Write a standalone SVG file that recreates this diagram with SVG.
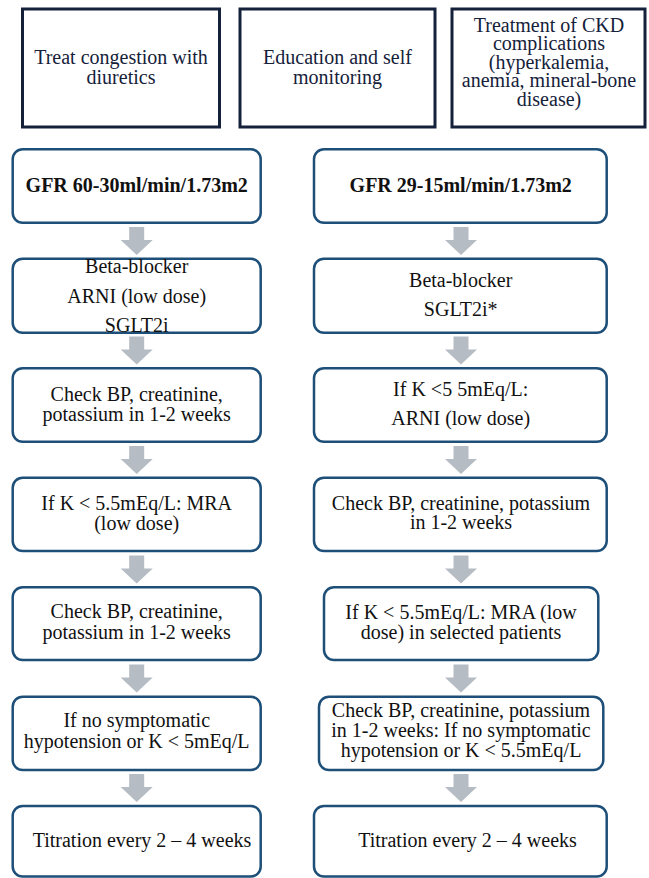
<svg xmlns="http://www.w3.org/2000/svg" width="649" height="878" viewBox="0 0 649 878">
<style>
.top{fill:#ffffff;stroke:#15213a;stroke-width:3}
.box{fill:#ffffff;stroke:#1d4f78;stroke-width:2.5}
.t{font-family:"Liberation Serif","Times New Roman",serif;font-size:20px;fill:#111111;text-anchor:middle}
.tt{font-family:"Liberation Serif","Times New Roman",serif;font-size:20px;fill:#15213a;text-anchor:middle}
.b{font-weight:bold}
.arr{fill:#b5bcc3}
</style>
<defs>
<path id="dn" class="arr" d="M-7.5,0 H7.5 V13 H16 L0,28 L-16,13 H-7.5 Z"/>
</defs>
<rect width="649" height="878" fill="#ffffff"/>

<g id="top1">
<rect class="top" x="22.5" y="9" width="197" height="118"/>
<text class="tt" x="121" y="64">Treat congestion with</text>
<text class="tt" x="121" y="83.5">diuretics</text>
</g>
<g id="top2">
<rect class="top" x="240" y="9" width="195" height="118"/>
<text class="tt" x="337.5" y="64">Education and self</text>
<text class="tt" x="337.5" y="83.5">monitoring</text>
</g>
<g id="top3">
<rect class="top" x="452" y="9" width="193" height="118"/>
<text class="tt" x="549" y="31.5">Treatment of CKD</text>
<text class="tt" x="549" y="50">complications</text>
<text class="tt" x="549" y="68.5">(hyperkalemia,</text>
<text class="tt" x="549" y="87.3">anemia, mineral-bone</text>
<text class="tt" x="549" y="106">disease)</text>
</g>

<g id="connectors">
<use href="#dn" x="136.7" y="227"/>
<use href="#dn" x="136.7" y="336.5"/>
<use href="#dn" x="136.7" y="446"/>
<use href="#dn" x="136.7" y="555.5"/>
<use href="#dn" x="136.7" y="664.5"/>
<use href="#dn" x="136.7" y="774"/>
<use href="#dn" x="461" y="227"/>
<use href="#dn" x="461" y="336.5"/>
<use href="#dn" x="461" y="446"/>
<use href="#dn" x="461" y="555.5"/>
<use href="#dn" x="461" y="664.5"/>
<use href="#dn" x="461" y="774"/>
</g>

<g id="L1">
<rect class="box" x="12.7" y="149.3" width="248" height="73.4" rx="10"/>
<text class="t b" x="136.7" y="192.3">GFR 60-30ml/min/1.73m2</text>
</g>
<g id="L2">
<rect class="box" x="12.7" y="258.7" width="248" height="74" rx="10"/>
<text class="t" x="136.7" y="272.7">Beta-blocker</text>
<text class="t" x="136.7" y="302.7">ARNI (low dose)</text>
<text class="t" x="136.7" y="331.7">SGLT2i</text>
</g>
<g id="L3">
<rect class="box" x="12.7" y="368.3" width="248" height="73.4" rx="10"/>
<text class="t" x="136.7" y="401">Check BP, creatinine,</text>
<text class="t" x="136.7" y="420.7">potassium in 1-2 weeks</text>
</g>
<g id="L4">
<rect class="box" x="12.7" y="477.7" width="248" height="73.3" rx="10"/>
<text class="t" x="136.7" y="510">If K &lt; 5.5mEq/L: MRA</text>
<text class="t" x="136.7" y="530">(low dose)</text>
</g>
<g id="L5">
<rect class="box" x="12.7" y="587.3" width="248" height="72.7" rx="10"/>
<text class="t" x="136.7" y="618.3">Check BP, creatinine,</text>
<text class="t" x="136.7" y="639.3">potassium in 1-2 weeks</text>
</g>
<g id="L6">
<rect class="box" x="12.7" y="696.7" width="248" height="73.3" rx="10"/>
<text class="t" x="136.7" y="726.7">If no symptomatic</text>
<text class="t" x="136.7" y="748.3">hypotension or K &lt; 5mEq/L</text>
</g>
<g id="L7">
<rect class="box" x="12.7" y="806" width="248" height="70.5" rx="10"/>
<text class="t" x="142" y="847.3">Titration every 2 – 4 weeks</text>
</g>

<g id="R1">
<rect class="box" x="314" y="149.3" width="292.7" height="73.4" rx="10"/>
<text class="t b" x="460.7" y="192.3">GFR 29-15ml/min/1.73m2</text>
</g>
<g id="R2">
<rect class="box" x="314" y="258.7" width="292.7" height="74" rx="10"/>
<text class="t" x="460.7" y="286.7">Beta-blocker</text>
<text class="t" x="460.7" y="316">SGLT2i*</text>
</g>
<g id="R3">
<rect class="box" x="314" y="368.3" width="292.7" height="73.4" rx="10"/>
<text class="t" x="460.7" y="395.7">If K &lt;5 5mEq/L:</text>
<text class="t" x="460.7" y="425">ARNI (low dose)</text>
</g>
<g id="R4">
<rect class="box" x="314" y="477.7" width="292.7" height="73.3" rx="10"/>
<text class="t" x="461" y="510">Check BP, creatinine, potassium</text>
<text class="t" x="461" y="529.3">in 1-2 weeks</text>
</g>
<g id="R5">
<rect class="box" x="324" y="587.3" width="274.3" height="72.7" rx="10"/>
<text class="t" x="461" y="619">If K &lt; 5.5mEq/L: MRA (low</text>
<text class="t" x="461" y="639.3">dose) in selected patients</text>
</g>
<g id="R6">
<rect class="box" x="319" y="696.7" width="284.3" height="73.3" rx="10"/>
<text class="t" x="461" y="716.7">Check BP, creatinine, potassium</text>
<text class="t" x="461" y="737">in 1-2 weeks: If no symptomatic</text>
<text class="t" x="461" y="756.7">hypotension or K &lt; 5.5mEq/L</text>
</g>
<g id="R7">
<rect class="box" x="314" y="806" width="292.7" height="70.5" rx="10"/>
<text class="t" x="467.5" y="847.3">Titration every 2 – 4 weeks</text>
</g>
</svg>
